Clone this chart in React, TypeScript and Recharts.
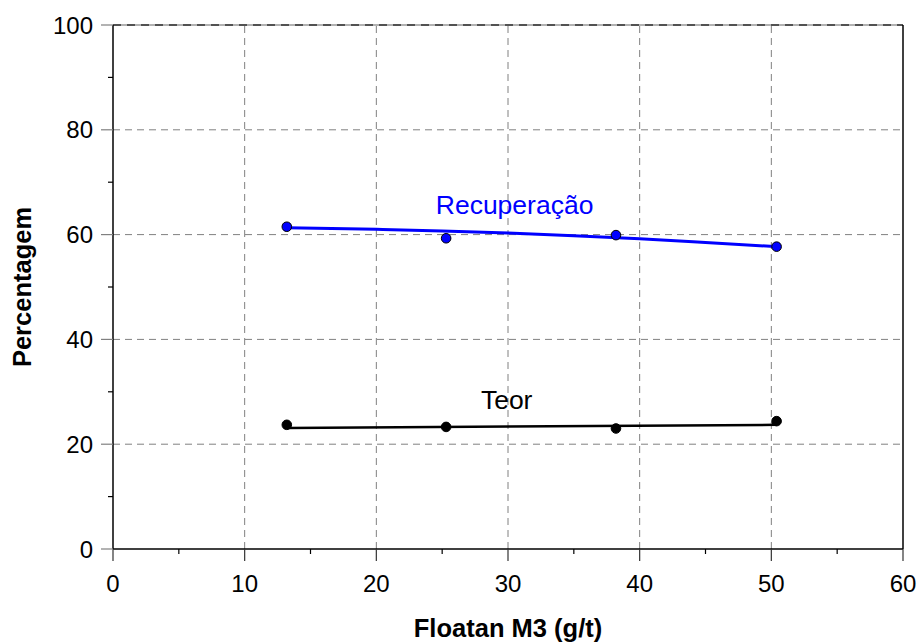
import React from 'react';
import { ComposedChart, XAxis, YAxis, Line, Scatter, ReferenceLine, ReferenceDot, Label } from 'recharts';

const doseX = [13.2, 25.3, 38.2, 50.4];
const recupY = [61.5, 59.3, 59.9, 57.7];
const teorY = [23.7, 23.3, 23.0, 24.4];

const recupFitX = [13.2, 20, 25, 30, 35, 40, 45, 50.4];
const recupFitY = [61.3, 61.0, 60.7, 60.3, 59.8, 59.2, 58.5, 57.7];
const teorFitX = [13.2, 50.4];
const teorFitY = [23.1, 23.7];

const xTicksAll = [0, 5, 10, 15, 20, 25, 30, 35, 40, 45, 50, 55, 60];
const xGrid = [10, 20, 30, 40, 50];
const yTicksAll = [0, 10, 20, 30, 40, 50, 60, 70, 80, 90, 100];
const yGrid = [20, 40, 60, 80];

const xTitle = 'Floatan M3 (g/t)';
const yTitle = 'Percentagem';
const recupLabel = 'Recuperação';
const teorLabel = 'Teor';
const recupLabelPos = { x: 30.5, y: 65.8 };
const teorLabelPos = { x: 29.9, y: 28.5 };

const recupPts = doseX.map((x, i) => ({ x, y: recupY[i] }));
const teorPts = doseX.map((x, i) => ({ x, y: teorY[i] }));
const recupFit = recupFitX.map((x, i) => ({ x, y: recupFitY[i] }));
const teorFit = teorFitX.map((x, i) => ({ x, y: teorFitY[i] }));

const FONT = 'Liberation Sans, Arial, sans-serif';

const XTick = (props: any) => {
  const { x, y, payload } = props;
  const v = payload.value;
  const major = v % 10 === 0;
  return (
    <g>
      <line x1={x} x2={x} y1={y} y2={y + (major ? 12 : 5)} stroke={major ? '#333' : '#000'} strokeWidth={1.2} />
      {major && (
        <text x={x} y={y + 43} textAnchor="middle" fontSize={24} fontFamily={FONT} fill="#000">{v}</text>
      )}
    </g>
  );
};

const YTick = (props: any) => {
  const { x, y, payload } = props;
  const v = payload.value;
  const major = v % 20 === 0;
  return (
    <g>
      <line x1={x - (major ? 12 : 5)} x2={x} y1={y} y2={y} stroke={major ? '#808080' : '#000'} strokeWidth={1.2} />
      {major && (
        <text x={x - 20} y={y + 8.6} textAnchor="end" fontSize={24} fontFamily={FONT} fill="#000">{v}</text>
      )}
    </g>
  );
};

const Dot = (color: string) => (p: any) => (
  <circle cx={p.cx} cy={p.cy} r={4.8} fill={color} stroke="#000" strokeWidth={1} />
);

export default function App() {
  return (
    <div style={{ position: 'absolute', left: 0, top: 0, width: 923, height: 643, background: '#fff', fontFamily: FONT }}>
      <ComposedChart width={923} height={643} margin={{ top: 25, right: 20, bottom: 0, left: 0 }}>
        <XAxis
          type="number"
          dataKey="x"
          domain={[0, 60]}
          ticks={xTicksAll}
          interval={0}
          height={94}
          tickSize={0}
          tickMargin={0}
          tickLine={false}
          axisLine={{ stroke: '#000', strokeWidth: 1.5 }}
          tick={<XTick />}
        >
          <Label
            content={(props: any) => {
              const vb = props.viewBox || {};
              return (
                <text x={vb.x + vb.width / 2} y={vb.y + vb.height - 6} textAnchor="middle" fontSize={25.5} fontWeight="bold" fontFamily={FONT} fill="#000">
                  {xTitle}
                </text>
              );
            }}
          />
        </XAxis>
        <YAxis
          type="number"
          domain={[0, 100]}
          ticks={yTicksAll}
          interval={0}
          width={113}
          tickSize={0}
          tickMargin={0}
          tickLine={false}
          axisLine={{ stroke: '#000', strokeWidth: 1.5 }}
          tick={<YTick />}
        >
          <Label
            content={(props: any) => {
              const vb = props.viewBox || {};
              const cx = vb.x + 31;
              const cy = vb.y + vb.height / 2;
              return (
                <text x={cx} y={cy} transform={`rotate(-90, ${cx}, ${cy})`} textAnchor="middle" fontSize={25.5} fontWeight="bold" fontFamily={FONT} fill="#000">
                  {yTitle}
                </text>
              );
            }}
          />
        </YAxis>
        {xGrid.map((v) => (
          <ReferenceLine key={'gx' + v} x={v} stroke="#808080" strokeWidth={1} strokeDasharray="7 5" zIndex={-50} />
        ))}
        {yGrid.map((v) => (
          <ReferenceLine key={'gy' + v} y={v} stroke="#808080" strokeWidth={1} strokeDasharray="7 5" zIndex={-50} />
        ))}
        <ReferenceLine y={100} stroke="#999" strokeWidth={1.5} zIndex={-50} />
        <ReferenceLine y={100} stroke="#333" strokeWidth={1.5} strokeDasharray="8 6" zIndex={-50} />
        <ReferenceLine x={60} stroke="#000" strokeWidth={1.5} />
        <Line data={recupFit} dataKey="y" type="monotone" stroke="#0000ff" strokeWidth={3} dot={false} activeDot={false} isAnimationActive={false} />
        <Line data={teorFit} dataKey="y" type="linear" stroke="#000" strokeWidth={2.5} dot={false} activeDot={false} isAnimationActive={false} />
        <Scatter data={recupPts} dataKey="y" shape={Dot('#0000ff')} isAnimationActive={false} />
        <Scatter data={teorPts} dataKey="y" shape={Dot('#000')} isAnimationActive={false} />
        <ReferenceDot x={recupLabelPos.x} y={recupLabelPos.y} r={0} fill="none" stroke="none">
          <Label value={recupLabel} position="center" fill="#0000ff" fontSize={26.5} />
        </ReferenceDot>
        <ReferenceDot x={teorLabelPos.x} y={teorLabelPos.y} r={0} fill="none" stroke="none">
          <Label value={teorLabel} position="center" fill="#000" fontSize={26.5} />
        </ReferenceDot>
      </ComposedChart>
    </div>
  );
}
